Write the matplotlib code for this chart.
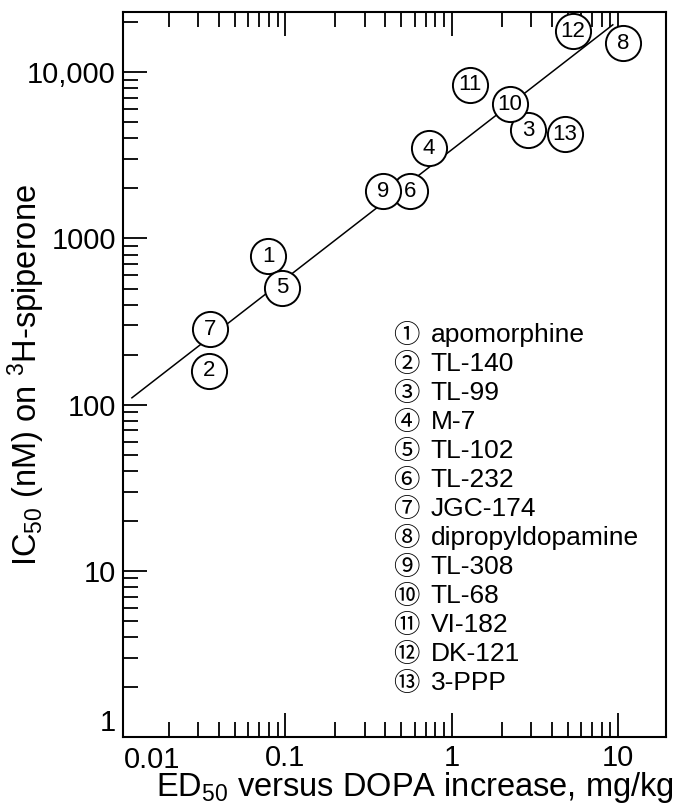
import matplotlib
matplotlib.use("Agg")
import matplotlib.pyplot as plt
from matplotlib.ticker import LogLocator, FixedLocator, NullFormatter

plt.rcParams["font.family"] = ["Liberation Sans", "Noto Sans CJK JP", "DejaVu Sans"]
plt.rcParams["mathtext.default"] = "regular"

# compound numbers, names and values
numbers = [1, 2, 3, 4, 5, 6, 7, 8, 9, 10, 11, 12, 13]
names = ["apomorphine", "TL-140", "TL-99", "M-7", "TL-102", "TL-232", "JGC-174",
         "dipropyldopamine", "TL-308", "TL-68", "VI-182", "DK-121", "3-PPP"]
ed50 = [0.079, 0.035, 2.88, 0.73, 0.096, 0.564, 0.0355, 10.7, 0.388, 2.24, 1.29, 5.37, 4.81]
ic50 = [780, 160, 4480, 3490, 507, 1930, 285, 15000, 1930, 6400, 8430, 17700, 4240]

# regression line end points
fit_x = [0.012, 9.3]
fit_y = [110, 19300]

circled = ["\u2460", "\u2461", "\u2462", "\u2463", "\u2464", "\u2465", "\u2466",
           "\u2467", "\u2468", "\u2469", "\u246a", "\u246b", "\u246c"]

fig = plt.figure(figsize=(6.83, 8.1), dpi=100)
ax = fig.add_axes([0.180, 0.090, 0.795, 0.895])

ax.set_xscale("log")
ax.set_yscale("log")
ax.set_xlim(0.0106, 19.4)
ax.set_ylim(1, 23000)

ax.plot(fit_x, fit_y, color="black", lw=1.1, zorder=2)
ax.scatter(ed50, ic50, s=640, facecolor="white", edgecolor="black", linewidth=1.4, zorder=3)
for n, x, y in zip(numbers, ed50, ic50):
    ax.text(x, y, str(n), ha="center", va="center", fontsize=16, zorder=4)

# legend of compounds
for i, (c, name) in enumerate(zip(circled, names)):
    yy = 0.5545 - i * 0.04
    ax.text(0.497, yy, c, transform=ax.transAxes, ha="left", va="center",
            fontsize=19, family=["Noto Sans CJK JP", "DejaVu Sans"])
    ax.text(0.567, yy, name, transform=ax.transAxes, ha="left", va="center", fontsize=19)

# ticks
ax.xaxis.set_major_locator(FixedLocator([0.1, 1, 10]))
ax.set_xticklabels(["0.1", "1", "10"])
ax.xaxis.set_minor_locator(LogLocator(base=10, subs=range(2, 10)))
ax.xaxis.set_minor_formatter(NullFormatter())
ax.yaxis.set_major_locator(FixedLocator([1, 10, 100, 1000, 10000]))
ax.set_yticklabels(["1", "10", "100", "1000", "10,000"])
ax.yaxis.set_minor_locator(LogLocator(base=10, subs=range(2, 10)))
ax.yaxis.set_minor_formatter(NullFormatter())

ax.tick_params(which="both", direction="in", top=True, right=False, width=1.3, labelsize=21)
ax.tick_params(which="major", length=17, pad=5)
ax.tick_params(which="minor", length=11)
ax.get_yticklabels()[0].set_verticalalignment("bottom")
ax.text(0.053, -0.012, "0.01", transform=ax.transAxes, ha="center", va="top", fontsize=21)

for s in ax.spines.values():
    s.set_linewidth(1.5)

ax.set_xlabel("ED$_{50}$ versus DOPA increase, mg/kg", fontsize=23.5)
ax.xaxis.set_label_coords(0.538, -0.045)
ax.set_ylabel("IC$_{50}$ (nM) on $^{3}$H-spiperone", fontsize=23.5)
ax.yaxis.set_label_coords(-0.14, 0.5)

fig.savefig("out.png", dpi=100)
